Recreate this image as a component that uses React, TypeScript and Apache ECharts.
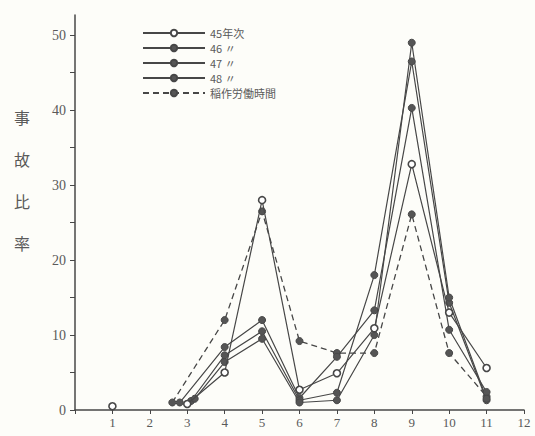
import React, { useEffect, useRef } from "react";
import * as echarts from "echarts";

const seriesNames = ["45年次", "46 〃", "47 〃", "48 〃", "稲作労働時間"];
const xTickLabels = ["1", "2", "3", "4", "5", "6", "7", "8", "9", "10", "11", "12"];
const yTickValues = [0, 10, 20, 30, 40, 50];
const yMinorTickValues = [0, 5, 10, 15, 20, 25, 30, 35, 40, 45, 50];

// [month, accident ratio]; null breaks the line
const s45: (number[] | null)[] = [[1, 0.5], null, [3.0, 0.8], [4, 5.0], [5, 28.0], [6, 2.7], [7, 4.9], [8, 10.9], [9, 32.8], [10, 13.0], [11, 5.6]];
const s46: number[][] = [[2.8, 1.0], [4, 8.4], [5, 12.0], [6, 1.6], [7, 7.1], [8, 13.3], [9, 40.3], [10, 10.7], [11, 2.4]];
const s47: number[][] = [[3.1, 1.2], [4, 7.3], [5, 10.5], [6, 1.3], [7, 2.3], [8, 18.0], [9, 46.5], [10, 14.3], [11, 1.3]];
const s48: number[][] = [[3.2, 1.5], [4, 6.4], [5, 9.5], [6, 1.0], [7, 1.3], [8, 10.0], [9, 49.0], [10, 15.0], [11, 1.5]];
const sRice: number[][] = [[2.6, 1.0], [4, 12.0], [5, 26.5], [6, 9.2], [7, 7.6], [8, 7.6], [9, 26.1], [10, 7.6], [11, 1.8]];

const INK = "#474747";
const TXT = "#5a5a5a";

export default function App() {
  const ref = useRef<HTMLDivElement>(null);
  useEffect(() => {
    if (!ref.current) return;
    const chart = echarts.init(ref.current, null, { renderer: "svg" });
    const solid = (name: string, data: any[], open: boolean) => ({
      name,
      type: "line",
      data,
      connectNulls: false,
      symbol: "circle",
      symbolSize: 7,
      showSymbol: true,
      lineStyle: { color: INK, width: 1.2 },
      itemStyle: open
        ? { color: "#ffffff", borderColor: INK, borderWidth: 1.6 }
        : { color: "#555555", borderColor: INK, borderWidth: 1 },
      z: open ? 5 : 3,
    });
    chart.setOption({
      animation: false,
      backgroundColor: "#fdfdf9",
      textStyle: { fontFamily: "Liberation Serif" },
      grid: { left: 75, right: 11, top: 15, bottom: 26, containLabel: false },
      legend: {
        orient: "vertical",
        left: 137,
        top: 22,
        itemWidth: 62,
        itemHeight: 8,
        itemGap: 3,
        textStyle: { color: TXT, fontSize: 11, lineHeight: 12, fontFamily: "Noto Sans CJK JP" },
        data: seriesNames,
      },
      xAxis: {
        type: "value",
        min: 0,
        max: 12,
        interval: 1,
        axisLine: { lineStyle: { color: INK, width: 1.5 } },
        axisTick: { show: true, length: 4, lineStyle: { color: INK } },
        splitLine: { show: false },
        axisLabel: {
          color: TXT,
          fontSize: 13,
          margin: 6,
          formatter: (v: number) => (v >= 1 ? xTickLabels[v - 1] : ""),
        },
      },
      yAxis: {
        type: "value",
        min: 0,
        max: 52.7,
        axisLine: { show: true, lineStyle: { color: INK, width: 1.5 } },
        axisTick: { show: true, length: 5, customValues: yMinorTickValues, lineStyle: { color: INK } },
        splitLine: { show: false },
        axisLabel: { color: TXT, fontSize: 14, margin: 9, customValues: yTickValues },
      },
      graphic: [
        {
          type: "text",
          left: 14,
          top: 96,
          style: {
            text: "事\n故\n比\n率",
            fill: TXT,
            fontSize: 16,
            lineHeight: 42,
            fontFamily: "Noto Sans CJK JP",
          },
        },
      ],
      series: [
        solid(seriesNames[0], s45, true),
        solid(seriesNames[1], s46, false),
        solid(seriesNames[2], s47, false),
        solid(seriesNames[3], s48, false),
        {
          name: seriesNames[4],
          type: "line",
          data: sRice,
          symbol: "circle",
          symbolSize: 7,
          showSymbol: true,
          lineStyle: { color: INK, width: 1.3, type: [6, 4] },
          itemStyle: { color: "#555555", borderColor: INK, borderWidth: 1 },
          z: 2,
        },
      ],
    });
    return () => chart.dispose();
  }, []);
  return (
    <div
      ref={ref}
      style={{ position: "absolute", left: 0, top: 0, width: 535, height: 436 }}
    />
  );
}
